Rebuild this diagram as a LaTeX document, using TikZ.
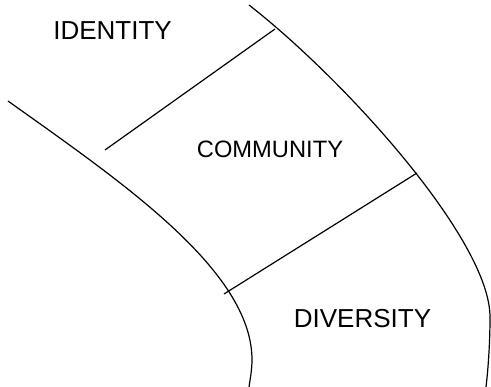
\documentclass[tikz,border=0pt]{standalone}
\usepackage{fontspec}
\setmainfont{Liberation Sans}
\usetikzlibrary{positioning}

\tikzset{
  band/.style={line width=1.2pt},
  lbl/.style={font=\fontsize{26}{30}\selectfont, inner sep=0pt},
}

\begin{document}
\begin{tikzpicture}[x=1pt,y=-1pt]
  \useasboundingbox (0,0) rectangle (491,387);

  % inner curve
  \draw[band] (8,101) .. controls (120,181) and (252,270) .. (252,360)
              .. controls (252,370) and (250,380) .. (249,387);
  % outer curve
  \draw[band] (249,5) .. controls (345,80) and (490,240) .. (490,317)
              .. controls (490,345) and (488,370) .. (486,387);

  % dividers
  \coordinate (d1a) at (105,150);
  \coordinate (d1b) at (275,29);
  \coordinate (d2a) at (417,173);
  \coordinate (d2b) at (224,294);
  \draw[band] (d1a) -- (d1b);
  \draw[band] (d2a) -- (d2b);

  % labels
  \node[lbl] (identity) at (112.5,30.5) {IDENTITY};
  \node[lbl, font=\fontsize{23.7}{28}\selectfont] (community) at (270,149.5) {COMMUNITY};
  \node[lbl] (diversity) at (362.5,318.5) {DIVERSITY};
\end{tikzpicture}
\end{document}
